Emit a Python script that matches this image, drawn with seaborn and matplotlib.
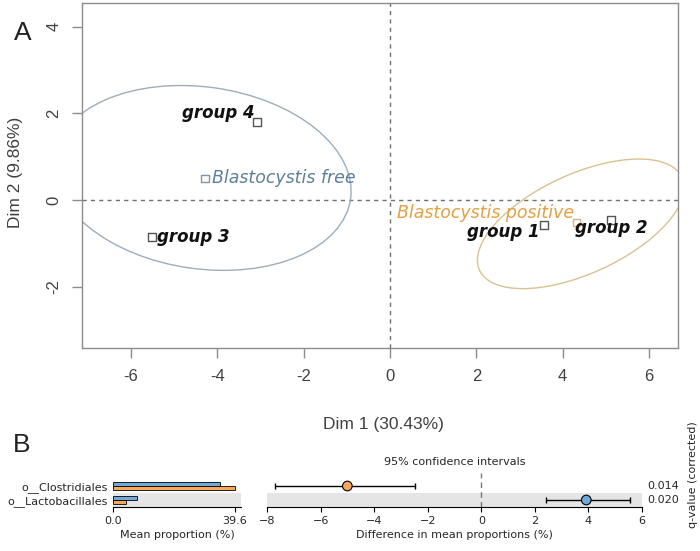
import numpy as np
import pandas as pd
import matplotlib
matplotlib.use("Agg")
import matplotlib.pyplot as plt
from matplotlib.patches import Ellipse
import seaborn as sns

# ---------------- Panel A data ----------------
group_names = ["group 1", "group 2", "group 3", "group 4"]
group_dim1 = [3.56, 5.13, -5.52, -3.07]
group_dim2 = [-0.58, -0.46, -0.85, 1.81]

status_names = ["Blastocystis positive", "Blastocystis free"]
status_dim1 = [4.32, -4.28]
status_dim2 = [-0.52, 0.50]

ellipse_cx = [4.42, -4.35]
ellipse_cy = [-0.55, 0.51]
ellipse_a = [2.58, 3.47]
ellipse_b = [1.15, 2.10]
ellipse_angle = [24.5, -8.0]

dim1_ticks = [-6, -4, -2, 0, 2, 4, 6]
dim2_ticks = [-2, 0, 2, 4]
dim1_label = "Dim 1 (30.43%)"
dim2_label = "Dim 2 (9.86%)"

# ---------------- Panel B data ----------------
taxa = ["o__Clostridiales", "o__Lactobacillales"]
mean_free = [34.7, 7.8]       # blue
mean_positive = [39.6, 4.2]   # orange
diff_mean = [-5.0, 3.92]
ci_low = [-7.69, 2.43]
ci_high = [-2.46, 5.56]
q_values = ["0.014", "0.020"]
enriched = ["positive", "free"]
prop_ticks = [0.0, 39.6]
diff_ticks = [-8, -6, -4, -2, 0, 2, 4, 6]

# ---------------- style ----------------
sns.set_theme(style="white")
plt.rcParams["font.family"] = ["DejaVu Sans"]

BLUE = "#6FAADB"
ORANGE = "#F7A65A"
FREE_TXT = "#5E7F9A"
FREE_ELL = "#9DADBA"
POS_TXT = "#E3A043"
POS_ELL = "#D9C290"
SPINE = "#8C8C8C"
TICKTXT = "#404040"

fig = plt.figure(figsize=(7, 5.51), dpi=100)

W, H = 700.0, 551.0
def fx(px):
    return px / W
def fy(py):
    return 1 - py / H

# ================= Panel A =================
axA = fig.add_axes([fx(82), fy(348), (678 - 82) / W, (348 - 3) / H])
axA.set_xlim(-7.135, 6.671)
axA.set_ylim(-3.418, 4.55)

axA.axhline(0, color="#707070", lw=1.0, ls=(0, (3, 3)), zorder=1)
axA.axvline(0, color="#707070", lw=1.0, ls=(0, (3, 3)), zorder=1)

ell_cols = [POS_ELL, FREE_ELL]
for cx, cy, a, b, ang, col in zip(ellipse_cx, ellipse_cy, ellipse_a, ellipse_b,
                                  ellipse_angle, ell_cols):
    axA.add_patch(Ellipse((cx, cy), 2 * a, 2 * b, angle=ang, fill=False,
                          edgecolor=col, lw=1.0, zorder=2))

df_groups = pd.DataFrame({"dim1": group_dim1, "dim2": group_dim2, "name": group_names})
sns.scatterplot(data=df_groups, x="dim1", y="dim2", ax=axA, marker="s", s=36,
                color="white", edgecolor="#555555", linewidth=1.0, zorder=4, legend=False)
df_status = pd.DataFrame({"dim1": status_dim1, "dim2": status_dim2, "name": status_names})
sns.scatterplot(data=df_status, x="dim1", y="dim2", hue="name", ax=axA, marker="s", s=30,
                palette={"Blastocystis positive": "#E2B27C", "Blastocystis free": "#7F94A6"},
                linewidth=1.0, zorder=4, legend=False)
coll = axA.collections[-1]
coll.set_edgecolor(coll.get_facecolor())
coll.set_facecolor("white")

group_offsets = {"group 1": (-3.0, -5.2, "right"),
                 "group 2": (0.0, -6.0, "center"),
                 "group 3": (3.8, 0.0, "left"),
                 "group 4": (-2.0, 6.3, "right")}
for name, x, y in zip(group_names, group_dim1, group_dim2):
    dx, dy, ha = group_offsets[name]
    axA.annotate(name, (x, y), xytext=(dx, dy), textcoords="offset points",
                 ha=ha, va="center", fontsize=12, fontweight="bold",
                 fontstyle="italic", color="#111111", zorder=5)

status_offsets = {"Blastocystis positive": (-1.4, 6.8, "right", POS_TXT),
                  "Blastocystis free": (4.8, 0.0, "left", FREE_TXT)}
for name, x, y in zip(status_names, status_dim1, status_dim2):
    dx, dy, ha, col = status_offsets[name]
    axA.annotate(name, (x, y), xytext=(dx, dy), textcoords="offset points",
                 ha=ha, va="center", fontsize=12.5, fontstyle="italic",
                 color=col, zorder=5)

axA.set_xticks(dim1_ticks)
axA.set_xticklabels([str(t) for t in dim1_ticks], family="Liberation Sans",
                    fontsize=12, color=TICKTXT)
axA.set_yticks(dim2_ticks)
axA.set_yticklabels([str(t) for t in dim2_ticks], family="Liberation Sans",
                    fontsize=12, color=TICKTXT, rotation=90, va="center")
axA.tick_params(axis="both", which="both", direction="out", length=7,
                width=1, color=SPINE, pad=8, bottom=True, left=True)
for sp in axA.spines.values():
    sp.set_color(SPINE)
    sp.set_linewidth(1.0)
axA.set_xlabel("")
axA.set_ylabel("")

fig.text(fx(383), fy(425), dim1_label, ha="center", va="center",
         family="Liberation Sans", fontsize=12.5, color=TICKTXT)
fig.text(fx(16), fy(172), dim2_label, ha="center", va="center", rotation=90,
         family="Liberation Sans", fontsize=12.5, color=TICKTXT)
fig.text(fx(23), fy(33), "A", ha="center", va="center",
         family="Liberation Sans", fontsize=19, color="#222222")
fig.text(fx(22), fy(445), "B", ha="center", va="center",
         family="Liberation Sans", fontsize=19, color="#222222")

# ================= Panel B: bars =================
axB1 = fig.add_axes([fx(113), fy(507), 128 / W, 28 / H])
df_bar = pd.DataFrame({
    "taxon": taxa * 2,
    "mean": mean_free + mean_positive,
    "group": ["free"] * len(taxa) + ["positive"] * len(taxa),
})
axB1.axhspan(0.5, 1.5, color="#E5E5E5", zorder=0, lw=0)
sns.barplot(data=df_bar, y="taxon", x="mean", hue="group", orient="h",
            palette={"free": BLUE, "positive": ORANGE}, width=0.6, saturation=1,
            edgecolor="black", linewidth=0.6, ax=axB1, legend=False, zorder=2)
axB1.set_xlim(0, 41.55)
axB1.set_ylim(1.5, -0.5)
axB1.set_xticks(prop_ticks)
axB1.set_xticklabels(["%.1f" % t for t in prop_ticks], fontsize=8)
axB1.set_yticks([0, 1])
axB1.set_yticklabels(taxa, fontsize=8)
axB1.tick_params(axis="x", direction="out", length=3.5, width=0.8, color="black",
                 pad=3, bottom=True)
axB1.tick_params(axis="y", length=0, pad=4)
for s in ["top", "right", "left"]:
    axB1.spines[s].set_visible(False)
axB1.spines["bottom"].set_color("black")
axB1.spines["bottom"].set_linewidth(0.8)
axB1.set_xlabel("Mean proportion (%)", fontsize=8, labelpad=3)
axB1.set_ylabel("")

# ================= Panel B: confidence intervals =================
axB2 = fig.add_axes([fx(267), fy(507), 375 / W, 28 / H])
axB2.axhspan(0.5, 1.5, color="#E5E5E5", zorder=0, lw=0)
rows = np.arange(len(taxa))
axB2.errorbar(diff_mean, rows,
              xerr=[np.array(diff_mean) - np.array(ci_low),
                    np.array(ci_high) - np.array(diff_mean)],
              fmt="none", ecolor="black", elinewidth=1.0, capsize=2.5,
              capthick=1.0, zorder=2)
df_ci = pd.DataFrame({"diff": diff_mean, "row": rows, "enriched": enriched})
sns.scatterplot(data=df_ci, x="diff", y="row", hue="enriched",
                palette={"free": BLUE, "positive": ORANGE}, s=48,
                edgecolor="black", linewidth=0.8, ax=axB2, legend=False, zorder=3)
axB2.axvline(0, ymin=0, ymax=1 + 6 / 28, color="#777777", lw=1.0,
             ls=(0, (4, 3)), zorder=1, clip_on=False)
axB2.set_xlim(-8, 6)
axB2.set_ylim(1.5, -0.5)
axB2.set_xticks(diff_ticks)
axB2.set_xticklabels([str(t).replace("-", "\u2212") for t in diff_ticks], fontsize=8)
axB2.set_yticks([])
axB2.tick_params(axis="x", direction="out", length=3.5, width=0.8, color="black",
                 pad=3, bottom=True)
for s in ["top", "right", "left"]:
    axB2.spines[s].set_visible(False)
axB2.spines["bottom"].set_color("black")
axB2.spines["bottom"].set_linewidth(0.8)
axB2.set_xlabel("Difference in mean proportions (%)", fontsize=8, labelpad=3)
axB2.set_ylabel("")

for r, q in zip(rows, q_values):
    axB2.annotate(q, (1.0, r), xycoords=("axes fraction", "data"),
                  xytext=(4, 0), textcoords="offset points",
                  ha="left", va="center", fontsize=8, annotation_clip=False)

fig.text(fx(455), fy(462), "95% confidence intervals", ha="center",
         va="center", fontsize=8)
fig.text(fx(693), fy(475), "q-value (corrected)", ha="center", va="center",
         rotation=90, fontsize=8)

fig.savefig("out.png", dpi=100)
